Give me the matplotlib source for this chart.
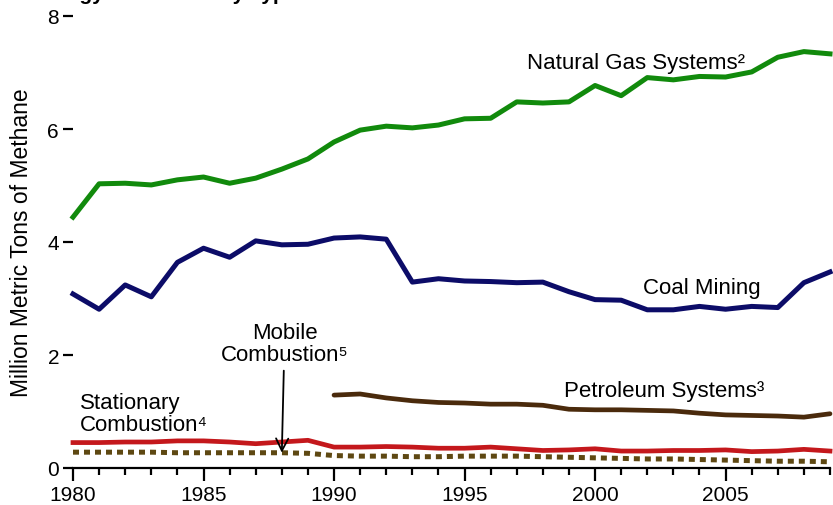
import matplotlib
matplotlib.use("Agg")
import matplotlib.pyplot as plt
from matplotlib.ticker import MultipleLocator

plt.rcParams['font.family'] = ['Liberation Sans', 'DejaVu Sans']

years = list(range(1980, 2010))
natural_gas = [4.44, 5.03, 5.04, 5.01, 5.10, 5.15, 5.04, 5.13, 5.29, 5.47,
               5.77, 5.98, 6.05, 6.02, 6.07, 6.18, 6.19, 6.48, 6.46, 6.48,
               6.77, 6.59, 6.91, 6.87, 6.93, 6.92, 7.01, 7.27, 7.37, 7.33]
coal_mining = [3.08, 2.81, 3.24, 3.03, 3.64, 3.89, 3.73, 4.02, 3.95, 3.96,
               4.07, 4.09, 4.05, 3.29, 3.35, 3.31, 3.30, 3.28, 3.29, 3.12,
               2.98, 2.97, 2.80, 2.80, 2.86, 2.81, 2.86, 2.84, 3.28, 3.47]
petro_years = list(range(1990, 2010))
petroleum = [1.29, 1.31, 1.24, 1.19, 1.16, 1.15, 1.13, 1.13, 1.11, 1.04,
             1.03, 1.03, 1.02, 1.01, 0.97, 0.94, 0.93, 0.92, 0.90, 0.96]
stationary = [0.45, 0.45, 0.46, 0.46, 0.48, 0.48, 0.46, 0.43, 0.46, 0.49,
              0.37, 0.37, 0.38, 0.37, 0.35, 0.35, 0.37, 0.34, 0.31, 0.32,
              0.34, 0.30, 0.30, 0.31, 0.31, 0.32, 0.29, 0.30, 0.33, 0.30]
mobile = [0.28, 0.28, 0.28, 0.28, 0.27, 0.27, 0.27, 0.27, 0.27, 0.26,
          0.22, 0.21, 0.21, 0.20, 0.20, 0.21, 0.21, 0.21, 0.20, 0.19,
          0.18, 0.17, 0.16, 0.16, 0.15, 0.14, 0.13, 0.12, 0.12, 0.11]

c_gas = '#118a0c'
c_coal = '#0c0c68'
c_pet = '#4a2a0c'
c_stat = '#c4181c'
c_mob = '#5e4812'

fig = plt.figure(figsize=(8.33, 5.06), dpi=100)
ax = fig.add_axes([73/833, 37/506, 757/833, 452/506])

ax.plot(years, natural_gas, color=c_gas, lw=3.6, clip_on=False)
ax.plot(years, coal_mining, color=c_coal, lw=3.6, clip_on=False)
ax.plot(petro_years, petroleum, color=c_pet, lw=3.4, solid_capstyle='round', clip_on=False)
ax.plot(years, stationary, color=c_stat, lw=3.4, clip_on=False)
ax.plot(years, mobile, color=c_mob, lw=3.6, linestyle=(0, (1.2, 1.0)), clip_on=False)

ax.set_xlim(1980, 2009)
ax.set_ylim(0, 8)
ax.xaxis.set_major_locator(MultipleLocator(5))
ax.xaxis.set_minor_locator(MultipleLocator(1))
ax.yaxis.set_major_locator(MultipleLocator(2))

for s in ['top', 'right', 'left']:
    ax.spines[s].set_visible(False)
ax.spines['bottom'].set_linewidth(1.6)

ax.tick_params(axis='x', which='major', direction='out', length=9, width=1.6,
               labelsize=15, pad=3.5)
ax.tick_params(axis='x', which='minor', direction='out', length=5, width=1.6)
ax.tick_params(axis='y', which='major', direction='out', length=7, width=1.6,
               labelsize=15, pad=3)

ax.set_ylabel('Million Metric Tons of Methane', fontsize=16.5, labelpad=10)

fs = 16
ax.text(1997.4, 7.17, 'Natural Gas Systems\u00b2', fontsize=fs, ha='left', va='center')
ax.text(2001.85, 3.20, 'Coal Mining', fontsize=fs, ha='left', va='center')
ax.text(1998.8, 1.38, 'Petroleum Systems\u00b3', fontsize=fs, ha='left', va='center')
ax.text(1980.25, 0.97, 'Stationary\nCombustion\u2074', fontsize=fs, ha='left',
        va='center', linespacing=1.05)
ax.annotate('Mobile\nCombustion\u2075', xy=(1988, 0.27), xytext=(1988.1, 2.2),
            fontsize=fs, ha='center', va='center', linespacing=1.05,
            arrowprops=dict(arrowstyle='->', color='black', lw=1.3,
                            mutation_scale=22, shrinkA=2, shrinkB=0))

fig.text(33/833, 1 - 0.5/506, 'Energy Emissions by Type', fontsize=15,
         fontweight='bold', ha='left', va='baseline')

fig.savefig('out.png', dpi=100)
